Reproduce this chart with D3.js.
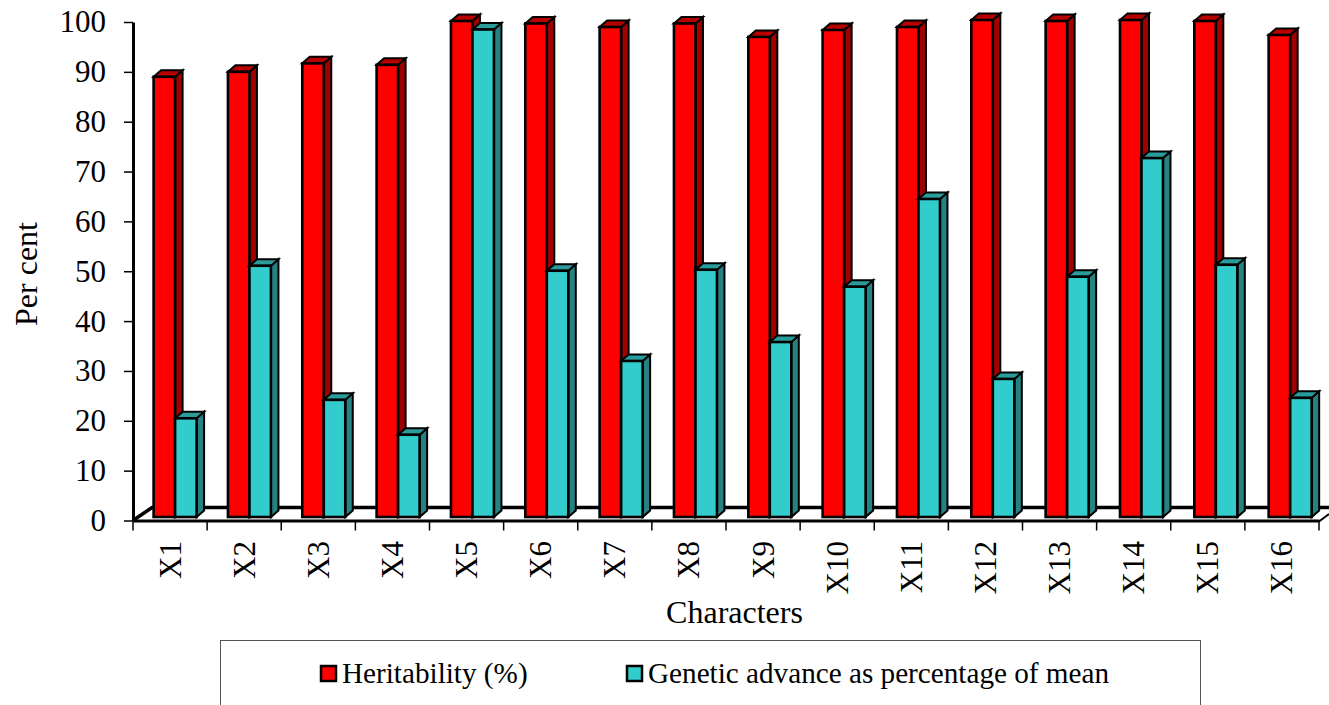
<!DOCTYPE html>
<html>
<head>
<meta charset="utf-8">
<script src="https://cdn.jsdelivr.net/npm/d3@7"></script>
<style>
body { margin: 0; background: #fff; }
text { font-family: "Liberation Serif", serif; fill: #000; }
</style>
</head>
<body>
<div id="chart"></div>
<script>
const categories = ["X1","X2","X3","X4","X5","X6","X7","X8","X9","X10","X11","X12","X13","X14","X15","X16"];
const heritability = [88.3,89.3,91,90.7,99.5,99,98.3,99,96.3,97.7,98.3,99.7,99.5,99.7,99.5,96.7];
const geneticAdvance = [19.8,50.4,23.5,16.5,97.8,49.4,31.3,49.6,35.1,46.2,63.8,27.7,48.2,72,50.6,23.9];
const seriesNames = ["Heritability (%)","Genetic advance as percentage of mean"];
const yTicks = [0,10,20,30,40,50,60,70,80,90,100];

const width = 1329, height = 705;
const depthX = 7.5, depthY = 6.5;   // 3d offset of the bars
const fontSize = 31;

const svg = d3.select("#chart")
    .append("svg")
        .attr("width", width)
        .attr("height", height)
        .style("display", "block");

const x = d3.scaleBand().domain(categories).range([133, 1319]);
// bars run on a slightly wider step than the axis ticks in the original
const xGroup = d3.scaleBand().domain(categories).range([153.6, 1343]);
const xBar = d3.scaleBand().domain([0, 1]).range([0, 43]);
const y = d3.scaleLinear().domain([0, 100]).range([520.5, 22]);

const colors = [
    {front: "#ff0000", top: "#b80000", side: "#a00000"},
    {front: "#33cccc", top: "#2a9c9c", side: "#268282"}
];

// floor of the 3d box
svg.append("path")
    .attr("d", `M${x.range()[0]},${y(0)} L152,507.5 L${width},507.5`)
    .attr("fill", "none")
    .attr("stroke", "#000")
    .attr("stroke-width", 3.5);
svg.append("path")
    .attr("d", `M${x.range()[1]},${y(0) + 1} L${width},514`)
    .attr("fill", "none")
    .attr("stroke", "#000")
    .attr("stroke-width", 2);

// axes
const yAxis = d3.axisLeft(y).tickValues(yTicks).tickSize(9).tickSizeOuter(0).tickPadding(18);
const gy = svg.append("g").attr("transform", "translate(133,0)").call(yAxis);
gy.select(".domain").attr("stroke-width", 3);
gy.selectAll(".tick line").attr("stroke-width", 1.5);
gy.selectAll("text").style("font-family", '"Liberation Serif", serif').style("font-size", fontSize + "px");

const xAxis = d3.axisBottom(x).tickSize(0).tickFormat("");
const gx = svg.append("g").attr("transform", "translate(0," + y(0) + ")").call(xAxis);
gx.select(".domain").attr("stroke-width", 3);
gx.selectAll(".tick").remove();

// tick marks sit on band edges, not centres
svg.append("g").selectAll("line")
    .data(categories.map(d => x(d)).concat(x.range()[1]))
    .join("line")
        .attr("x1", d => d)
        .attr("x2", d => d)
        .attr("y1", y(0))
        .attr("y2", y(0) + 10)
        .attr("stroke", "#000")
        .attr("stroke-width", 1.5);

svg.append("g").selectAll("text")
    .data(categories)
    .join("text")
        .attr("transform", d => "translate(" + (x(d) + x.bandwidth() / 2 + 10.5) + ",541) rotate(-90)")
        .attr("text-anchor", "end")
        .style("font-size", fontSize + "px")
        .text(d => d);

function drawBars(values, s) {
    const c = colors[s];
    const g = svg.append("g").selectAll("g")
        .data(categories.map((d, i) => ({cat: d, v: values[i]})))
        .join("g");
    const bx = d => xGroup(d.cat) + xBar(s);
    const bw = xBar.bandwidth();
    const base = y(0) - 3.5;
    const top = d => y(d.v) - 3.5;

    g.append("path")
        .attr("d", d => `M${bx(d) + bw},${top(d)} l${depthX},${-depthY} V${base - depthY} l${-depthX},${depthY} Z`)
        .attr("fill", c.side)
        .attr("stroke", "#000")
        .attr("stroke-width", 2);
    g.append("path")
        .attr("d", d => `M${bx(d)},${top(d)} l${depthX},${-depthY} h${bw} l${-depthX},${depthY} Z`)
        .attr("fill", c.top)
        .attr("stroke", "#000")
        .attr("stroke-width", 2);
    g.append("rect")
        .attr("x", bx)
        .attr("y", top)
        .attr("width", bw)
        .attr("height", d => base - top(d))
        .attr("fill", c.front)
        .attr("stroke", "#000")
        .attr("stroke-width", 2.6);
}
drawBars(heritability, 0);
drawBars(geneticAdvance, 1);

// axis titles
svg.append("text")
    .attr("transform", "translate(37,274) rotate(-90)")
    .attr("text-anchor", "middle")
    .style("font-size", "32px")
    .text("Per cent");
svg.append("text")
    .attr("x", 734.5)
    .attr("y", 623)
    .attr("text-anchor", "middle")
    .style("font-size", "32px")
    .text("Characters");

// legend, cut off by the bottom of the page like the original
svg.append("rect")
    .attr("x", 220.5)
    .attr("y", 640.5)
    .attr("width", 980)
    .attr("height", 80)
    .attr("fill", "#fff")
    .attr("stroke", "#555")
    .attr("stroke-width", 1);

const legendX = [321, 627];
const legend = svg.append("g").selectAll("g")
    .data(seriesNames)
    .join("g")
        .attr("transform", (d, i) => "translate(" + legendX[i] + ",666)");
legend.append("rect")
    .attr("width", 15)
    .attr("height", 15)
    .attr("fill", (d, i) => colors[i].front)
    .attr("stroke", "#000")
    .attr("stroke-width", 2.5);
legend.append("text")
    .attr("x", 21)
    .attr("y", 17)
    .style("font-size", "29.2px")
    .text(d => d);
</script>
</body>
</html>
